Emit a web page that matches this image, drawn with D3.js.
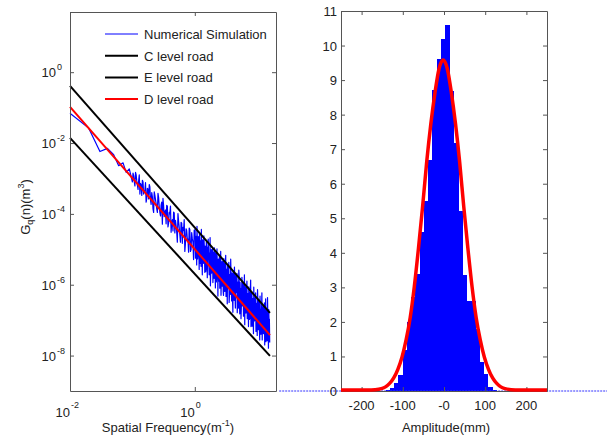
<!DOCTYPE html>
<html>
<head>
<meta charset="utf-8">
<script src="https://cdn.jsdelivr.net/npm/d3@7"></script>
<style>
  body { margin: 0; background: #fff; }
  svg { font-family: "Liberation Sans", Arial, sans-serif; }
  .axis path, .axis line { stroke: #555; }
</style>
</head>
<body>
<svg width="607" height="438"></svg>
<script>
'use strict';

// ---- left panel: road spectrum (log10 of frequency / log10 of Gq) ----
var blueLogN = [
  -2.00, -1.70, -1.52, -1.40, -1.30, -1.22, -1.15, -1.10, -1.05, -1.00,
  -0.98, -0.96, -0.94, -0.92, -0.90, -0.88, -0.86, -0.84, -0.82, -0.80,
  -0.78, -0.76, -0.74, -0.72, -0.70, -0.68, -0.66, -0.64, -0.62, -0.60,
  -0.58, -0.56, -0.54, -0.52, -0.50, -0.48, -0.46, -0.44, -0.42, -0.40,
  -0.38, -0.36, -0.34, -0.32, -0.30, -0.28, -0.26, -0.24, -0.22, -0.20,
  -0.18, -0.16, -0.14, -0.12, -0.10, -0.08, -0.06, -0.04, -0.02,
  0.00, 0.01, 0.02, 0.03, 0.04, 0.05, 0.06, 0.07, 0.08, 0.09,
  0.10, 0.11, 0.12, 0.13, 0.14, 0.15, 0.16, 0.17, 0.18, 0.19,
  0.20, 0.21, 0.22, 0.23, 0.24, 0.25, 0.26, 0.27, 0.28, 0.29,
  0.30, 0.31, 0.32, 0.33, 0.34, 0.35, 0.36, 0.37, 0.38, 0.39,
  0.40, 0.41, 0.42, 0.43, 0.44, 0.45, 0.46, 0.47, 0.48, 0.49,
  0.50, 0.51, 0.52, 0.53, 0.54, 0.55, 0.56, 0.57, 0.58, 0.59,
  0.60, 0.61, 0.62, 0.63, 0.64, 0.65, 0.66, 0.67, 0.68, 0.69,
  0.70, 0.71, 0.72, 0.73, 0.74, 0.75, 0.76, 0.77, 0.78, 0.79,
  0.80, 0.81, 0.82, 0.83, 0.84, 0.85, 0.86, 0.87, 0.88, 0.89,
  0.90, 0.91, 0.92, 0.93, 0.94, 0.95, 0.96, 0.97, 0.98, 0.99,
  1.00, 1.01, 1.02, 1.03, 1.04, 1.05, 1.06, 1.07, 1.08, 1.09,
  1.10, 1.11, 1.12, 1.13, 1.14, 1.15, 1.16, 1.17, 1.18, 1.19,
  1.20
];
var blueLogG = [
  -1.16, -1.58, -2.24, -2.15, -2.33, -2.64, -2.56, -2.83, -2.73, -3.10,
  -2.92, -3.21, -2.90, -3.19, -3.06, -3.44, -3.18, -3.05, -3.44, -3.33,
  -3.67, -3.28, -3.58, -3.24, -3.73, -3.52, -3.96, -3.48, -3.72, -3.96,
  -3.54, -3.96, -3.75, -4.29, -3.78, -3.97, -4.28, -3.78, -4.26, -4.00,
  -4.52, -4.16, -3.95, -4.54, -4.33, -4.80, -4.21, -4.58, -4.24, -4.83,
  -4.47, -5.06, -4.42, -4.72, -5.08, -4.44, -5.01, -4.70, -5.29,
  -4.68, -5.25, -4.92, -5.44, -4.71, -5.13, -4.88, -5.57, -4.99, -4.76,
  -5.48, -5.15, -5.72, -4.96, -5.38, -4.83, -5.65, -5.14, -5.54, -4.98,
  -5.80, -5.28, -5.10, -5.72, -5.38, -6.03, -5.08, -5.67, -5.29, -5.94,
  -5.08, -5.82, -5.57, -6.09, -5.31, -5.78, -5.42, -6.32, -5.54, -5.36,
  -6.10, -5.65, -6.30, -5.54, -6.04, -5.33, -6.30, -5.82, -6.19, -5.51,
  -6.33, -5.80, -6.54, -5.66, -6.04, -6.50, -5.80, -6.27, -5.66, -6.46,
  -6.06, -6.78, -5.87, -6.44, -5.84, -6.66, -6.22, -5.80, -6.79, -6.14,
  -6.66, -5.75, -6.82, -6.29, -6.96, -6.16, -6.60, -6.07, -6.89, -6.31,
  -7.13, -6.22, -6.80, -6.14, -6.96, -6.58, -7.18, -6.32, -6.96, -6.18,
  -7.18, -6.62, -7.17, -6.39, -7.38, -6.60, -7.02, -6.50, -7.32, -6.66,
  -7.43, -6.45, -7.27, -6.69, -7.56, -6.88, -7.40, -6.64, -7.56, -6.84,
  -7.38, -6.68, -7.70, -6.99, -7.61, -6.83, -7.58, -6.94, -7.79, -7.06,
  -7.63
];
// in-between samples of the same simulation
var blueLogN2 = [
  -0.99, -0.97, -0.95, -0.93, -0.91, -0.89, -0.87, -0.85, -0.83, -0.81,
  -0.79, -0.77, -0.75, -0.73, -0.71, -0.69, -0.67, -0.65, -0.63, -0.61,
  -0.59, -0.57, -0.55, -0.53, -0.51, -0.49, -0.47, -0.45, -0.43, -0.41,
  -0.39, -0.37, -0.35, -0.33, -0.31, -0.29, -0.27, -0.25, -0.23, -0.21,
  -0.19, -0.17, -0.15, -0.13, -0.11, -0.09, -0.07, -0.05, -0.03, -0.01,
  0.005, 0.015, 0.025, 0.035, 0.045, 0.055, 0.065, 0.075, 0.085, 0.095,
  0.105, 0.115, 0.125, 0.135, 0.145, 0.155, 0.165, 0.175, 0.185, 0.195,
  0.205, 0.215, 0.225, 0.235, 0.245, 0.255, 0.265, 0.275, 0.285, 0.295,
  0.305, 0.315, 0.325, 0.335, 0.345, 0.355, 0.365, 0.375, 0.385, 0.395,
  0.405, 0.415, 0.425, 0.435, 0.445, 0.455, 0.465, 0.475, 0.485, 0.495,
  0.505, 0.515, 0.525, 0.535, 0.545, 0.555, 0.565, 0.575, 0.585, 0.595,
  0.605, 0.615, 0.625, 0.635, 0.645, 0.655, 0.665, 0.675, 0.685, 0.695,
  0.705, 0.715, 0.725, 0.735, 0.745, 0.755, 0.765, 0.775, 0.785, 0.795,
  0.805, 0.815, 0.825, 0.835, 0.845, 0.855, 0.865, 0.875, 0.885, 0.895,
  0.905, 0.915, 0.925, 0.935, 0.945, 0.955, 0.965, 0.975, 0.985, 0.995,
  1.005, 1.015, 1.025, 1.035, 1.045, 1.055, 1.065, 1.075, 1.085, 1.095,
  1.105, 1.115, 1.125, 1.135, 1.145, 1.155, 1.165, 1.175, 1.185, 1.195
];
var blueLogG2 = [
  -2.85, -3.09, -2.83, -3.07, -3.31, -2.90, -3.14, -3.48, -3.10, -3.36,
  -3.12, -3.56, -3.30, -3.17, -3.61, -3.40, -3.86, -3.38, -3.60, -3.86,
  -3.42, -3.79, -4.06, -3.67, -3.56, -4.08, -3.89, -3.76, -4.37, -3.96,
  -3.78, -4.24, -4.48, -3.97, -4.18, -4.52, -3.99, -4.38, -4.80, -4.26,
  -4.38, -4.16, -4.83, -4.47, -4.71, -4.40, -5.06, -4.53, -4.80, -4.46,
  -4.44, -5.11, -4.63, -4.35, -5.27, -4.64, -4.96, -4.53, -5.40, -4.82,
  -4.44, -5.16, -4.73, -5.40, -4.62, -5.09, -4.91, -5.63, -4.80, -5.27,
  -4.94, -4.71, -5.48, -5.10, -4.67, -5.69, -5.01, -5.28, -4.95, -5.67,
  -5.19, -4.96, -5.63, -5.10, -5.92, -4.99, -5.41, -5.28, -5.90, -5.17,
  -5.59, -5.06, -5.88, -5.35, -5.52, -6.19, -5.26, -5.78, -5.40, -5.17,
  -6.09, -5.56, -5.43, -6.00, -5.37, -6.29, -5.71, -5.28, -6.05, -5.67,
  -6.44, -5.61, -5.93, -5.50, -6.32, -5.74, -6.11, -5.68, -6.50, -5.92,
  -5.59, -6.41, -5.93, -6.10, -6.67, -5.79, -6.26, -5.93, -6.65, -5.72,
  -6.29, -6.06, -6.78, -5.90, -6.57, -6.24, -6.06, -6.98, -6.25, -5.87,
  -6.74, -6.21, -6.48, -6.95, -6.07, -6.69, -6.36, -6.23, -7.00, -6.52,
  -6.14, -6.86, -6.43, -7.25, -6.32, -6.69, -7.06, -6.23, -6.85, -6.62,
  -7.29, -6.51, -6.78, -6.40, -7.17, -6.69, -6.36, -7.13, -6.70, -6.97
];
// straight reference lines: [n, Gq] at both ends
var cLevel = [[0.01, 4.1e-1], [16, 1.6e-7]];
var eLevel = [[0.01, 1.4e-2], [16, 9.8e-9]];
var dLevel = [[0.01, 1.05e-1], [16, 3.8e-8]];
var legendNames = ["Numerical Simulation", "C level road", "E level road", "D level road"];
var leftYTicks = [1e0, 1e-2, 1e-4, 1e-6, 1e-8];
var leftXTicks = [1e-2, 1e0];

// ---- right panel: amplitude histogram ----
var binCenters = [-136.3, -126.0, -115.7, -105.4, -95.1, -84.8, -74.5, -64.2, -53.9, -43.6,
  -33.3, -23.0, -12.7, -2.4, 7.9, 18.2, 28.5, 38.8, 49.1, 59.4,
  69.7, 80.0, 90.3, 100.6, 110.9, 121.2];
var binHeights = [0.04, 0.1, 0.22, 0.45, 1.2, 2.0, 2.73, 3.4, 4.6, 5.5,
  6.7, 8.7, 9.6, 10.18, 10.6, 8.67, 7.18, 5.2, 3.35, 2.6,
  2.6, 1.8, 0.85, 0.5, 0.12, 0.03];
var binWidth = 10.3;
var fitX = [-250, -187, -167, -152, -142, -132, -122, -112, -102, -92, -82, -72, -62, -52, -42, -32, -22, -12,
  -2, 8, 18, 28, 38, 48, 58, 68, 78, 88, 98, 108, 118, 128, 138, 148, 163, 183, 250];
var fitY = [0, 0, 0.01, 0.04, 0.09, 0.19, 0.35, 0.6, 0.95, 1.45, 2.1, 3.0, 4.1, 5.3, 6.6, 7.7, 8.6, 9.3,
  9.55, 9.3, 8.6, 7.7, 6.6, 5.3, 4.1, 3.0, 2.1, 1.45, 0.95, 0.6, 0.35, 0.19, 0.09, 0.04, 0.01, 0, 0];
var rightXTicks = [-200, -100, 0, 100, 200];
var rightXLabels = ["-200", "-100", "-0", "100", "200"];
var rightYTicks = [0, 1, 2, 3, 4, 5, 6, 7, 8, 9, 10, 11];

var svg = d3.select("svg");

var xL = d3.scaleLog().domain([0.01, 20]).range([70, 276]);
var yL = d3.scaleLog().domain([1e-9, 50]).range([391, 12]);
var xR = d3.scaleLinear().domain([-250, 250]).range([341, 547]);
var yR = d3.scaleLinear().domain([0, 11]).range([391, 11]);

function box(x, y, xt, yt) {
  var g = svg.append("g").attr("class", "axis");
  var x0 = x.range()[0], x1 = x.range()[1], y0 = y.range()[0], y1 = y.range()[1];
  g.append("g").attr("transform", "translate(0," + y0 + ")")
    .call(d3.axisBottom(x).tickValues(xt).tickSize(-4).tickSizeOuter(0).tickFormat(""));
  g.append("g").attr("transform", "translate(0," + y1 + ")")
    .call(d3.axisTop(x).tickValues(xt).tickSize(-4).tickSizeOuter(0).tickFormat(""));
  g.append("g").attr("transform", "translate(" + x0 + ",0)")
    .call(d3.axisLeft(y).tickValues(yt).tickSize(-4).tickSizeOuter(0).tickFormat(""));
  g.append("g").attr("transform", "translate(" + x1 + ",0)")
    .call(d3.axisRight(y).tickValues(yt).tickSize(-4).tickSizeOuter(0).tickFormat(""));
}

// ===== left panel =====
var lineL = d3.line().x(function(d) { return xL(d[0]); }).y(function(d) { return yL(d[1]); });
var bluePts = blueLogN.map(function(v, i) { return [v, blueLogG[i]]; })
  .concat(blueLogN2.map(function(v, i) { return [v, blueLogG2[i]]; }))
  .sort(function(a, b) { return a[0] - b[0]; })
  .map(function(p) { return [Math.pow(10, p[0]), Math.pow(10, p[1])]; });

svg.append("path").datum(bluePts).attr("d", lineL)
  .attr("fill", "none").attr("stroke", "#0000ff").attr("stroke-width", 1.2).attr("stroke-linejoin", "round");
svg.append("path").datum(cLevel).attr("d", lineL).attr("stroke", "#000").attr("stroke-width", 2);
svg.append("path").datum(eLevel).attr("d", lineL).attr("stroke", "#000").attr("stroke-width", 2);
svg.append("path").datum(dLevel).attr("d", lineL).attr("stroke", "#ff0000").attr("stroke-width", 2);

box(xL, yL, leftXTicks, leftYTicks);

// legend
var legColors = ["#0000ff", "#000", "#000", "#ff0000"];
var legWidths = [1, 2, 2, 2];
legendNames.forEach(function(name, i) {
  var ly = 34 + i * 21.7;
  svg.append("line").attr("x1", 105).attr("x2", 138).attr("y1", ly).attr("y2", ly)
    .attr("stroke", legColors[i]).attr("stroke-width", legWidths[i]);
  svg.append("text").attr("x", 144).attr("y", ly + 5).attr("font-size", 13).attr("fill", "#222").text(name);
});

// log tick labels
leftYTicks.forEach(function(v) {
  var e = Math.round(Math.log10(v));
  var ty = yL(v);
  svg.append("text").attr("x", 56).attr("y", ty + 5).attr("text-anchor", "end")
    .attr("font-size", 13).attr("fill", "#222").text("10");
  svg.append("text").attr("x", 57).attr("y", ty - 2).attr("font-size", 9).attr("fill", "#222").text(e);
});
leftXTicks.forEach(function(v) {
  var e = Math.round(Math.log10(v));
  var tx = xL(v);
  svg.append("text").attr("x", tx).attr("y", 417).attr("text-anchor", "end")
    .attr("font-size", 13).attr("fill", "#222").text("10");
  svg.append("text").attr("x", tx + 1).attr("y", 408).attr("font-size", 9).attr("fill", "#222").text(e);
});

var xlab = svg.append("text").attr("x", 168).attr("y", 432).attr("text-anchor", "middle")
  .attr("font-size", 13).attr("fill", "#222");
xlab.append("tspan").text("Spatial Frequency(m");
xlab.append("tspan").attr("font-size", 9).attr("dy", -6).text("-1");
xlab.append("tspan").attr("dy", 6).text(")");

var ylab = svg.append("text").attr("transform", "translate(30,207) rotate(-90)")
  .attr("text-anchor", "middle").attr("font-size", 13).attr("fill", "#222");
ylab.append("tspan").text("G");
ylab.append("tspan").attr("font-size", 9).attr("dy", 3).text("q");
ylab.append("tspan").attr("dy", -3).text("(n)(m");
ylab.append("tspan").attr("font-size", 9).attr("dy", -6).text("3");
ylab.append("tspan").attr("dy", 6).text(")");

// ===== right panel =====
svg.append("g").attr("shape-rendering", "crispEdges")
  .selectAll("rect").data(binCenters).join("rect")
  .attr("x", function(c) { return xR(c - binWidth / 2); })
  .attr("width", function(c) { return xR(c + binWidth / 2) - xR(c - binWidth / 2) + 0.8; })
  .attr("y", function(c, i) { return yR(binHeights[i]); })
  .attr("height", function(c, i) { return yR(0) - yR(binHeights[i]); })
  .attr("fill", "#0000ff");

// dotted zero baseline running past the axes
svg.append("line").attr("x1", xR(-400)).attr("x2", xR(400)).attr("y1", yR(0)).attr("y2", yR(0))
  .attr("stroke", "#3333ff").attr("stroke-width", 1).attr("stroke-dasharray", "2,1");

box(xR, yR, rightXTicks, rightYTicks);

var fitLine = d3.line().curve(d3.curveMonotoneX)
  .x(function(d) { return xR(d); }).y(function(d, i) { return yR(fitY[i]) - 1; });
svg.append("path").datum(fitX).attr("d", fitLine)
  .attr("fill", "none").attr("stroke", "#ff0000").attr("stroke-width", 3.5).attr("stroke-linejoin", "round");

rightYTicks.forEach(function(v) {
  svg.append("text").attr("x", 337).attr("y", yR(v) + 5).attr("text-anchor", "end")
    .attr("font-size", 13).attr("fill", "#222").text(v);
});
rightXTicks.forEach(function(v, i) {
  svg.append("text").attr("x", xR(v)).attr("y", 410).attr("text-anchor", "middle")
    .attr("font-size", 13).attr("fill", "#222").text(rightXLabels[i]);
});
svg.append("text").attr("x", 446).attr("y", 432).attr("text-anchor", "middle")
  .attr("font-size", 13).attr("fill", "#222").text("Amplitude(mm)");
</script>
</body>
</html>
